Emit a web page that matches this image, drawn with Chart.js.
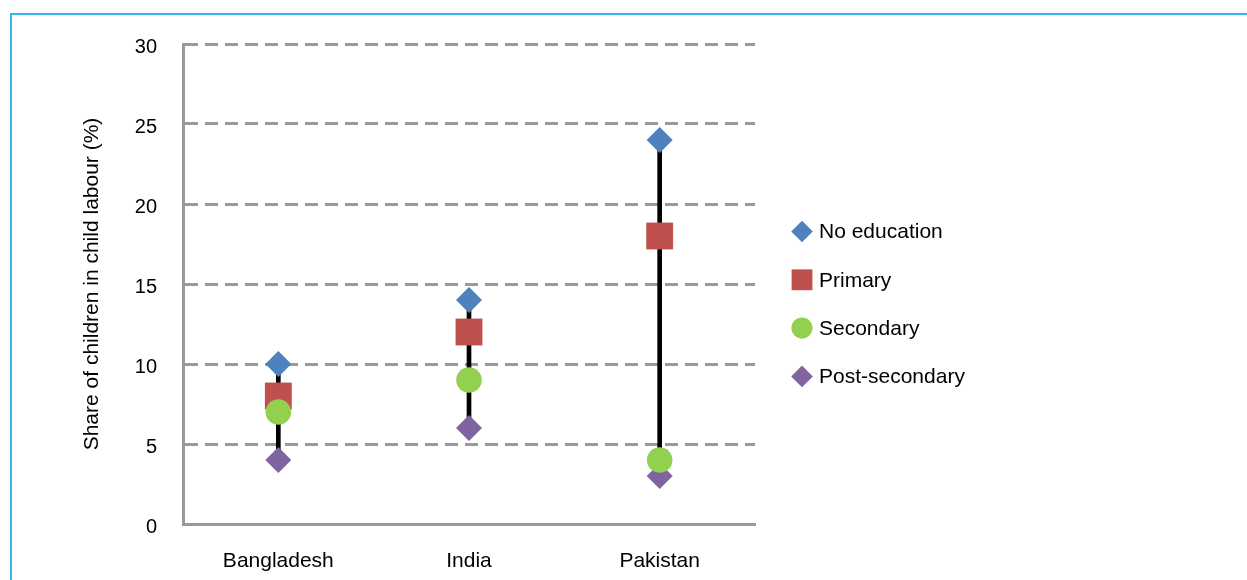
<!DOCTYPE html>
<html>
<head>
<meta charset="utf-8">
<script src="https://cdn.jsdelivr.net/npm/chart.js@4"></script>
<style>
  html, body { margin: 0; padding: 0; background: #ffffff; overflow: hidden; }
  #wrap { position: relative; width: 1247px; height: 580px; }
  #frame { position: absolute; left: 10px; top: 13px; width: 1300px; height: 700px;
           border-left: 2px solid #35b6ef; border-top: 2px solid #35b6ef; box-sizing: border-box; }
  canvas { position: absolute; left: 0; top: 0; }
</style>
</head>
<body>
<div id="wrap">
  <div id="frame"></div>
  <canvas id="c" width="1247" height="580"></canvas>
</div>
<script>
const categories = ['Bangladesh', 'India', 'Pakistan'];
const noEducation = [10, 14, 24];
const primary = [8, 12, 18];
const secondary = [7, 9, 4];
const postSecondary = [4, 6, 3];
const yTicks = [0, 5, 10, 15, 20, 25, 30];
const yTitle = 'Share of children in child labour (%)';

const seriesNames = ['No education', 'Primary', 'Secondary', 'Post-secondary'];
const seriesColors = ['#4F81BD', '#C0504D', '#92D050', '#8064A2'];
const allSeries = [noEducation, primary, secondary, postSecondary];
const ranges = categories.map((c, i) => {
  const vals = allSeries.map(s => s[i]);
  return [Math.min(...vals), Math.max(...vals)];
});

const FONT = "'Liberation Sans', Arial, sans-serif";

const legendPlugin = {
  id: 'customLegend',
  afterDraw(chart) {
    const ctx = chart.ctx;
    const x0 = 802, y0 = 231.5, step = 48.3;
    const styles = ['diamond', 'square', 'circle', 'diamond'];
    ctx.save();
    seriesNames.forEach((name, i) => {
      const cy = y0 + i * step;
      ctx.fillStyle = seriesColors[i];
      ctx.beginPath();
      if (styles[i] === 'diamond') {
        const r = 10.8;
        ctx.moveTo(x0, cy - r); ctx.lineTo(x0 + r, cy); ctx.lineTo(x0, cy + r); ctx.lineTo(x0 - r, cy);
        ctx.closePath();
      } else if (styles[i] === 'square') {
        const h = 10.4;
        ctx.rect(x0 - h, cy - h, 2 * h, 2 * h);
      } else {
        ctx.arc(x0, cy, 10.6, 0, Math.PI * 2);
      }
      ctx.fill();
      ctx.fillStyle = '#000000';
      ctx.font = '21px ' + FONT;
      ctx.textAlign = 'left';
      ctx.textBaseline = 'middle';
      ctx.fillText(name, 819, cy + 1);
    });
    ctx.restore();
  }
};

const markerDataset = (idx, style, radius, order) => ({
  type: 'line',
  label: seriesNames[idx],
  data: allSeries[idx],
  showLine: false,
  pointStyle: style,
  pointRadius: radius,
  pointHoverRadius: radius,
  pointBackgroundColor: seriesColors[idx],
  pointBorderColor: seriesColors[idx],
  pointBorderWidth: 0,
  order: order
});

new Chart(document.getElementById('c'), {
  data: {
    labels: categories,
    datasets: [
      {
        type: 'bar',
        label: 'range',
        data: ranges,
        backgroundColor: '#000000',
        borderWidth: 0,
        barThickness: 4,
        order: 10
      },
      markerDataset(0, 'rectRot', 13, 4),
      markerDataset(1, 'rect', 19, 3),
      markerDataset(3, 'rectRot', 13, 2),
      markerDataset(2, 'circle', 12.8, 1)
    ]
  },
  options: {
    responsive: false,
    animation: false,
    devicePixelRatio: 1,
    layout: { padding: { top: 44, right: 492, bottom: 0, left: 0 } },
    plugins: {
      legend: { display: false },
      tooltip: { enabled: false }
    },
    events: [],
    scales: {
      x: {
        type: 'category',
        offset: true,
        grid: { display: false, drawTicks: false },
        border: { display: true, color: '#9a9a9a', width: 3 },
        ticks: { color: '#000000', font: { family: FONT, size: 21 }, padding: 25 },
        afterFit(scale) { scale.height = 56; }
      },
      y: {
        type: 'linear',
        min: 0,
        max: 30,
        afterBuildTicks(scale) { scale.ticks = yTicks.map(v => ({ value: v })); },
        grid: { color: '#9a9a9a', lineWidth: 3, drawTicks: false },
        border: { display: true, color: '#9a9a9a', width: 3, dash: [13, 7] },
        ticks: { color: '#000000', font: { family: FONT, size: 20 }, padding: 26, labelOffset: 3 },
        title: {
          display: true,
          text: yTitle,
          color: '#000000',
          font: { family: FONT, size: 21 },
          padding: { top: 80, bottom: 0 }
        },
        afterFit(scale) { scale.width = 183; }
      }
    }
  },
  plugins: [legendPlugin]
});
</script>
</body>
</html>
